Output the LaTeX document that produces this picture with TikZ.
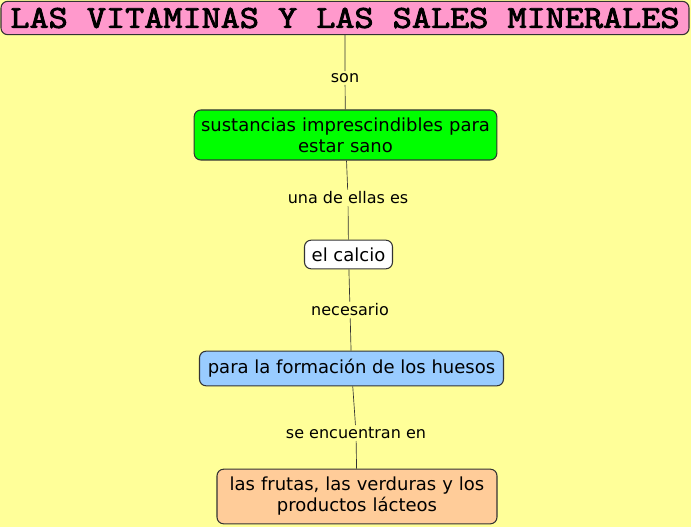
\documentclass[tikz,border=0pt]{standalone}
\usepackage{fontspec}
\setmainfont{DejaVu Sans}
\newfontfamily\titlefont{Latin Modern Mono}[FakeBold=2.5]
\usetikzlibrary{positioning}
\definecolor{paper}{HTML}{FFFF99}
\definecolor{pinkfill}{HTML}{FF99CC}
\definecolor{greenfill}{HTML}{00FF00}
\definecolor{bluefill}{HTML}{99CCFF}
\definecolor{orangefill}{HTML}{FFCC99}
\definecolor{edge}{HTML}{333333}

\begin{document}
\begin{tikzpicture}[x=0.75pt, y=-0.75pt,
    concept/.style={draw=edge, rectangle, rounded corners=5pt, line width=0.8pt,
                    font=\fontsize{13.5}{15.75}\selectfont, align=center,
                    inner xsep=2pt, inner ysep=2pt},
    linkword/.style={fill=paper, font=\fontsize{12}{14}\selectfont, inner sep=1.5pt},
    link/.style={draw=edge, line width=0.5pt}]
  \fill[paper] (0,0) rectangle (691,527);
  \useasboundingbox (0,0) rectangle (691,527);

  \node[concept, fill=pinkfill, minimum width=516pt, minimum height=25pt,
        font=\titlefont\fontsize{24}{26}\selectfont] (title) at (345,18)
        {\scalebox{1.16}[1]{LAS VITAMINAS Y LAS SALES MINERALES}};
  \node[concept, fill=greenfill, text width=223pt, minimum height=37.5pt] (sano) at (345.5,135)
        {sustancias imprescindibles para\\estar sano};
  \node[concept, fill=white, minimum width=66pt, minimum height=21.5pt] (calcio) at (348.5,254.5)
        {el calcio};
  \node[concept, fill=bluefill, minimum width=228pt, minimum height=26pt] (huesos) at (351.5,368.5)
        {para la formación de los huesos};
  \node[concept, fill=orangefill, text width=206pt, minimum height=41pt] (frutas) at (357,496.5)
        {las frutas, las verduras y los\\productos lácteos};

  \node[linkword] (son) at (345,78) {son};
  \node[linkword] (ellas) at (348,198) {una de ellas es};
  \node[linkword] (necesario) at (350,310) {necesario};
  \node[linkword] (encuentran) at (356,433) {se encuentran en};

  \draw[link] (title) -- (son) -- (sano);
  \draw[link] (sano) -- (ellas) -- (calcio);
  \draw[link] (calcio) -- (necesario) -- (huesos);
  \draw[link] (huesos) -- (encuentran) -- (frutas);
\end{tikzpicture}
\end{document}
